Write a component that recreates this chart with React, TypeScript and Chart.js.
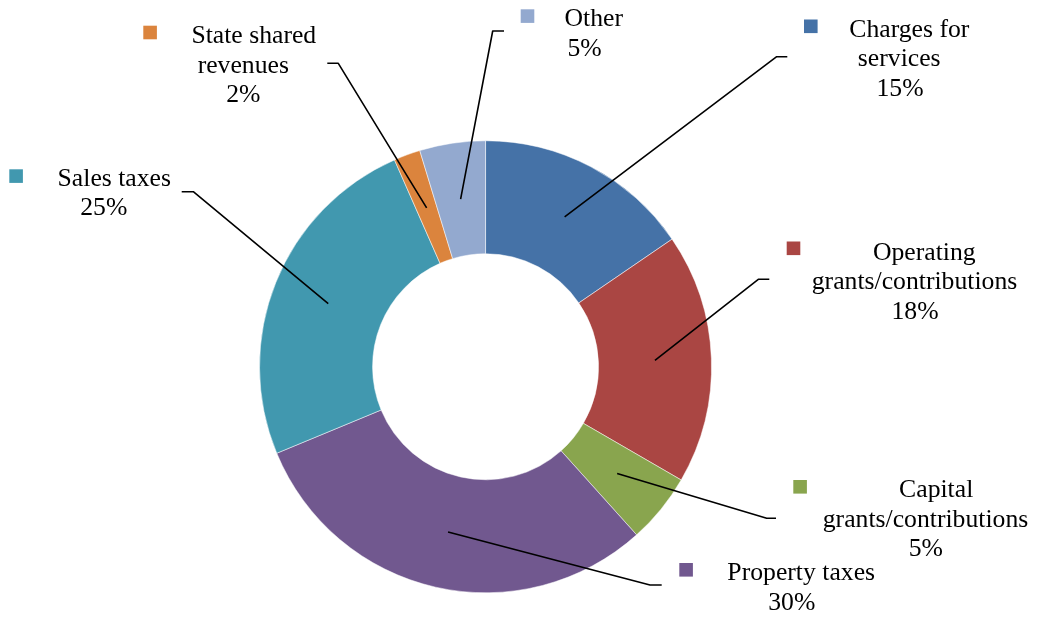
import React, { useEffect, useRef } from 'react';
import { Chart, registerables } from 'chart.js';

Chart.register(...registerables);

// ---- data ----
const categories = [
  'Charges for\nservices',
  'Operating\ngrants/contributions',
  'Capital\ngrants/contributions',
  'Property taxes',
  'Sales taxes',
  'State shared\nrevenues',
  'Other',
];
const values = [15.45, 17.9, 5.0, 30.4, 24.65, 1.9, 4.7];
const colors = ['#4572A7', '#AA4643', '#89A54E', '#71588F', '#4198AF', '#DB843D', '#93A9CF'];

// ---- label layout (canvas pixels) ----
type LabelLayout = { key: [number, number]; cx: number[]; y: number; elbow: [number, number]; end: [number, number] };
const labelLayout: LabelLayout[] = [
  { key: [804, 19.5], cx: [909.3, 899.2, 900], y: 36.5, elbow: [776.7, 56.7], end: [787.3, 56.7] },
  { key: [786.7, 241.5], cx: [924.3, 914.5, 915], y: 259.5, elbow: [758.3, 279.3], end: [769.3, 279.3] },
  { key: [793.3, 480], cx: [936.2, 925.5, 925.8], y: 496.7, elbow: [766.7, 518.3], end: [776, 518.3] },
  { key: [679.3, 563], cx: [801.2, 791.8], y: 580, elbow: [650, 585], end: [661.7, 585] },
  { key: [9.3, 169.3], cx: [114.3, 103.8], y: 185.5, elbow: [193.3, 191.7], end: [181.7, 191.7] },
  { key: [143.3, 25.7], cx: [253.8, 243.3, 243.3], y: 42.7, elbow: [338.3, 63.3], end: [327.3, 63.3] },
  { key: [520.7, 9.3], cx: [593.8, 584.5], y: 26, elbow: [492.7, 31], end: [504, 31] },
];
const KEY_SIZE = 13.6;
const LINE_H = 29.8;
const FONT = '25.7px "Liberation Serif", "Times New Roman", serif';

const labelPlugin = {
  id: 'outsideLabels',
  afterDatasetsDraw(chart: any) {
    const ctx = chart.ctx as CanvasRenderingContext2D;
    const meta = chart.getDatasetMeta(0);
    const data = chart.data.datasets[0].data as number[];
    const total = data.reduce((a, b) => a + b, 0);
    ctx.save();
    meta.data.forEach((arc: any, i: number) => {
      const L = labelLayout[i];
      if (!L) return;
      const p = arc.tooltipPosition(false);
      // leader line
      ctx.beginPath();
      ctx.strokeStyle = '#000';
      ctx.lineWidth = 1.6;
      ctx.lineJoin = 'round';
      ctx.moveTo(p.x, p.y);
      ctx.lineTo(L.elbow[0], L.elbow[1]);
      ctx.lineTo(L.end[0], L.end[1]);
      ctx.stroke();
      // legend key
      ctx.fillStyle = (chart.data.datasets[0].backgroundColor as string[])[i];
      ctx.fillRect(L.key[0], L.key[1], KEY_SIZE, KEY_SIZE);
      // text
      const lines = String(chart.data.labels[i]).split('\n');
      lines.push(Math.round((data[i] / total) * 100) + '%');
      ctx.fillStyle = '#000';
      ctx.font = FONT;
      ctx.textAlign = 'center';
      ctx.textBaseline = 'alphabetic';
      lines.forEach((t, j) => {
        ctx.fillText(t, L.cx[j] ?? L.cx[L.cx.length - 1], L.y + j * LINE_H);
      });
    });
    ctx.restore();
  },
};

export default function App() {
  const ref = useRef<HTMLCanvasElement | null>(null);
  useEffect(() => {
    if (!ref.current) return;
    const chart = new Chart(ref.current, {
      type: 'doughnut',
      data: {
        labels: categories,
        datasets: [
          {
            data: values,
            backgroundColor: colors,
            borderColor: '#ffffff',
            borderWidth: 0.5,
            hoverBorderWidth: 0.5,
          },
        ],
      },
      options: {
        animation: false,
        responsive: false,
        maintainAspectRatio: false,
        cutout: '50%',
        rotation: 0,
        layout: { padding: { left: 259.3, top: 140.5, right: 328.2, bottom: 25 } },
        plugins: {
          legend: { display: false },
          tooltip: { enabled: false },
        },
        events: [],
      },
      plugins: [labelPlugin],
    });
    return () => chart.destroy();
  }, []);
  return (
    <div style={{ position: 'fixed', left: 0, top: 0, width: 1040, height: 618, background: '#fff' }}>
      <canvas ref={ref} width={1040} height={618} style={{ width: 1040, height: 618, display: 'block' }} />
    </div>
  );
}
